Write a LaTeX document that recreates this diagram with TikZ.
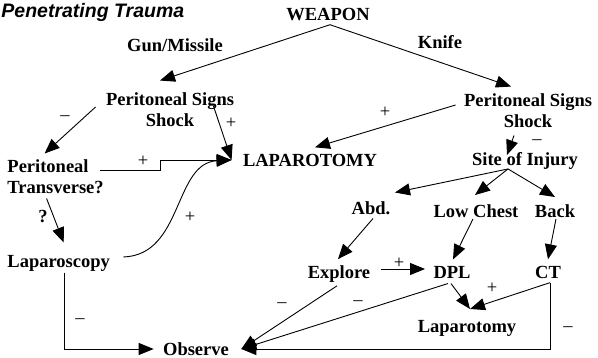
\documentclass[tikz,border=0pt]{standalone}
\usepackage{fontspec}
\setmainfont{Liberation Serif}
\newfontfamily\titlefont{Liberation Sans}
\usetikzlibrary{arrows.meta}

\begin{document}
\begin{tikzpicture}
	[x=1pt,y=-1pt,line width=0.9pt,
	every node/.style={inner sep=1pt,font=\fontsize{18.5}{21}\selectfont\bfseries},
	sign/.style={inner sep=0pt,font=\fontsize{18.5}{21}\selectfont\mdseries},
	arr/.style={-{Triangle[length=15pt,width=12pt]}}]
	\useasboundingbox (0,0) rectangle (598,358);
	\node[anchor=base west,font=\fontsize{19.5}{22}\selectfont\titlefont\bfseries\itshape] (title) at (0,18) {Penetrating Trauma};
	\node (weapon) at (328,15) {WEAPON};
	\node (gun) at (175,45) {Gun/Missile};
	\node (knife) at (440,42) {Knife};
	\node[align=center] (sigL) at (170,110) {Peritoneal Signs\\Shock};
	\node[align=center] (sigR) at (528,111) {Peritoneal Signs\\Shock};
	\node (lapU) at (310,160) {LAPAROTOMY};
	\node[anchor=west,align=left] (trans) at (6,177) {Peritoneal\\Transverse?};
	\node[anchor=west] (lapscopy) at (6,263) {Laparoscopy};
	\node (observe) at (196,349) {Observe};
	\node (site) at (525,161) {Site of Injury};
	\node (abd) at (371,208.5) {Abd.};
	\node (chest) at (476,211) {Low Chest};
	\node (back) at (555,211) {Back};
	\node (explore) at (339,274) {Explore};
	\node (dpl) at (452,272) {DPL};
	\node (ct) at (548,272) {CT};
	\node (lapL) at (467,328.5) {Laparotomy};

	% signs on the branches
	\node[sign] (mA) at (65,118) {\textendash};
	\node[sign] (pA) at (231,123) {+};
	\node[sign] (pB) at (143,161) {+};
	\node (qA) at (43,217) {?};
	\node[sign] (pC) at (190,217) {+};
	\node[sign] (mB) at (80,321) {\textendash};
	\node[sign] (pD) at (385,112) {+};
	\node[sign] (mC) at (537,142) {\textendash};
	\node[sign] (pE) at (399,263) {+};
	\node[sign] (mD) at (282,305) {\textendash};
	\node[sign] (mE) at (358,303) {\textendash};
	\node[sign] (pF) at (492,288) {+};
	\node[sign] (mF) at (568,329) {\textendash};

	\foreach \a/\ax/\ay/\b/\bx/\by in
	{weapon.south/2/2/sigL.north/-10/-11,
	weapon.south/2/2/sigR.north/-17/-6,
	sigL.east/-22/-4/lapU.west/-10/0,
	sigL.west/-9/-3/trans.north/-11/-5,
	trans.south/-9/3/lapscopy.north/5/-11,
	sigR.west/-7/-6/lapU.north/5/-5,
	sigR.south/-14/6/site.north/-18/4,
	site.south/-17/-2/abd.north/24/-8,
	site.south/-17/-2/chest.north/-1/-8,
	site.south/-17/-2/back.north/0/-6,
	abd.south/2/2/explore.north/-1/-5,
	chest.south/-3/0/dpl.north/1/-5,
	back.south/1/0/ct.north/0/-5,
	explore.east/9/-5/dpl.west/-7/-3,
	dpl.south/-1/4/lapL.north/3/-10,
	ct.south/2/3/lapL.north/3/-10,
	dpl.south/-4/4/observe.east/11/0,
	explore.south/-2/2/observe.east/11/0}
	\draw[arr] ([shift={(\ax,\ay)}]\a) -- ([shift={(\bx,\by)}]\b);

	\draw[arr] ([shift={(-5,12)}]trans.north east) -- ++(60,0) |- ([xshift=-10]lapU.west);
	\draw[arr] ([shift={(12,-6)}]lapscopy.east) .. controls +(60,-2) and +(-58,3) .. ([xshift=-10]lapU.west);
	\draw[arr] ([xshift=6]lapscopy.south) |- ([xshift=-8]observe.west);
	\draw[arr] ([shift={(2,3)}]ct.south) |- ([xshift=11]observe.east);
\end{tikzpicture}
\end{document}
